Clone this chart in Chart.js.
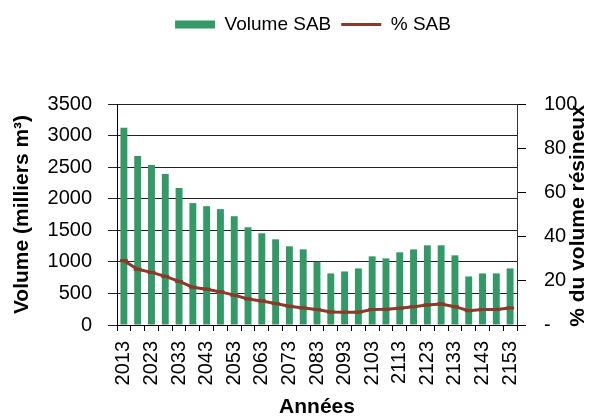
<!DOCTYPE html>
<html>
<head>
<meta charset="utf-8">
<title>Volume SAB</title>
<script src="https://cdn.jsdelivr.net/npm/chart.js@4.4.0/dist/chart.umd.min.js"></script>
<style>
    html, body { margin: 0; padding: 0; background: #fff; }
    #box { width: 592px; height: 418px; }
</style>
</head>
<body>
<div id="box"><canvas id="myChart" width="592" height="418"></canvas></div>
<script>
const annees = ['2013', '2018', '2023', '2028', '2033', '2038', '2043', '2048', '2053', '2058',
    '2063', '2068', '2073', '2078', '2083', '2088', '2093', '2098', '2103', '2108',
    '2113', '2118', '2123', '2128', '2133', '2138', '2143', '2148', '2153'];

// volume SAB (milliers m3)
const volumeSAB = [3123, 2678, 2535, 2391, 2169, 1930, 1882, 1835, 1723, 1548,
    1453, 1357, 1246, 1198, 1002, 817, 848, 896, 1087, 1055,
    1151, 1198, 1262, 1262, 1103, 769, 817, 817, 896];

// % du volume resineux
const pctSAB = [29.1, 25.2, 23.8, 22.0, 19.7, 17.1, 16.2, 15.0, 13.5, 11.8,
    10.9, 9.7, 8.5, 7.7, 7.0, 5.9, 5.8, 5.8, 7.0, 7.1,
    7.6, 8.3, 9.1, 9.5, 8.3, 6.5, 7.0, 7.0, 7.7];

const volumeTicks = [0, 500, 1000, 1500, 2000, 2500, 3000, 3500];
const pctTicks = [0, 20, 40, 60, 80, 100];

const vert = '#339966';
const rouge = '#8b3a2a';
const police = "'Liberation Sans', Arial, sans-serif";

// titre de l'axe de droite (lu de bas en haut)
const titreDroite = {
    id: 'titreDroite',
    afterLayout(chart) {
        // legende un peu decalee vers la droite comme dans l'original
        chart.legend.left += 17;
        chart.legend.right += 17;
    },
    afterDraw(chart) {
        const ctx = chart.ctx;
        ctx.save();
        ctx.translate(578, 216);
        ctx.rotate(-Math.PI / 2);
        ctx.font = 'bold 21px ' + police;
        ctx.fillStyle = '#000';
        ctx.textAlign = 'center';
        ctx.textBaseline = 'middle';
        ctx.fillText('% du volume résineux', 0, 0);
        ctx.restore();
    }
};

Chart.defaults.font.family = police;
Chart.defaults.color = '#000';

const myChart = new Chart(document.getElementById('myChart'), {
    type: 'bar',
    data: {
        labels: annees,
        datasets: [{
            type: 'bar',
            label: 'Volume SAB',
            data: volumeSAB,
            yAxisID: 'y',
            backgroundColor: vert,
            borderWidth: 0,
            barPercentage: 0.5,
            categoryPercentage: 1,
            order: 2
        },
        {
            type: 'line',
            label: '% SAB',
            data: pctSAB,
            yAxisID: 'y1',
            borderColor: rouge,
            backgroundColor: rouge,
            borderWidth: 3,
            pointStyle: 'line',
            pointRadius: 4,
            pointBorderWidth: 3,
            pointBorderColor: rouge,
            tension: 0,
            order: 1
        }]
    },
    options: {
        responsive: false,
        animation: false,
        layout: {
            padding: { top: 5, left: 0, right: 0, bottom: 0 }
        },
        plugins: {
            legend: {
                position: 'top',
                labels: {
                    usePointStyle: true,
                    pointStyleWidth: 40,
                    boxHeight: 8,
                    padding: 10,
                    font: { size: 19 },
                    color: '#000',
                    generateLabels: () => [
                        { text: 'Volume SAB', fillStyle: vert, strokeStyle: vert, lineWidth: 0, pointStyle: 'rect', datasetIndex: 0 },
                        { text: '% SAB', fillStyle: rouge, strokeStyle: rouge, lineWidth: 3, pointStyle: 'line', datasetIndex: 1 }
                    ]
                }
            },
            // titre vide, sert d'espace sous la legende
            title: {
                display: true,
                text: '',
                weight: 500,
                padding: { top: 0, bottom: 48 },
                font: { size: 10 }
            },
            tooltip: { enabled: false }
        },
        scales: {
            x: {
                grid: {
                    offset: true,
                    drawOnChartArea: false,
                    color: '#000',
                    tickLength: 6
                },
                border: { color: '#000', width: 1 },
                ticks: {
                    autoSkip: false,
                    minRotation: 90,
                    maxRotation: 90,
                    padding: 10,
                    font: { size: 20 },
                    callback: function (v, i) { return i % 2 === 0 ? annees[i] : ''; }
                },
                title: {
                    display: true,
                    text: 'Années',
                    padding: { top: 0, bottom: 0 },
                    font: { size: 21, weight: 'bold', lineHeight: 1 }
                },
                afterFit: (s) => { s.height = 93; }
            },
            y: {
                position: 'left',
                min: 0,
                max: 3500,
                afterBuildTicks: (s) => { s.ticks = volumeTicks.map(v => ({ value: v })); },
                grid: {
                    color: '#222',
                    tickLength: 9
                },
                border: { color: '#000', width: 1 },
                ticks: {
                    padding: 16,
                    font: { size: 20 },
                    callback: (v) => String(v)
                },
                title: {
                    display: true,
                    text: 'Volume (milliers m³)',
                    padding: { top: 10, bottom: 0 },
                    font: { size: 21, weight: 'bold' }
                },
                afterFit: (s) => { s.width = 117; }
            },
            y1: {
                position: 'right',
                min: 0,
                max: 100,
                afterBuildTicks: (s) => { s.ticks = pctTicks.map(v => ({ value: v })); },
                grid: {
                    drawOnChartArea: false,
                    color: '#000',
                    tickLength: 9
                },
                border: { color: '#333', width: 1 },
                ticks: {
                    padding: 18,
                    font: { size: 20 },
                    callback: (v) => v === 0 ? '-' : String(v)
                },
                afterFit: (s) => { s.width = 75; }
            }
        }
    },
    plugins: [titreDroite]
});
</script>
</body>
</html>
